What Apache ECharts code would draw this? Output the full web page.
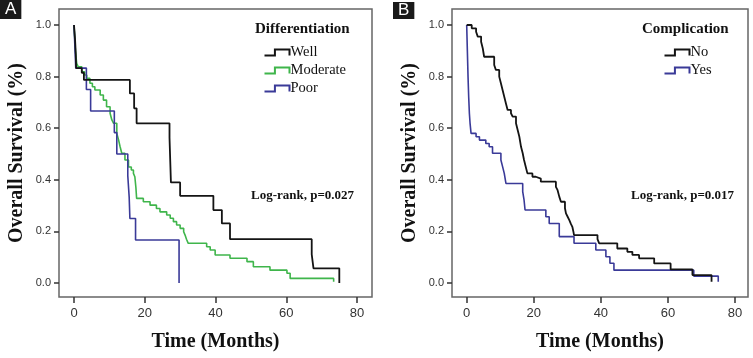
<!DOCTYPE html>
<html>
<head>
<meta charset="utf-8">
<script src="https://cdn.jsdelivr.net/npm/echarts@6/dist/echarts.min.js"></script>
<style>
html,body{margin:0;padding:0;background:#fff;}
#c{width:753px;height:358px;}
</style>
</head>
<body>
<div id="c"></div>
<script>
// ---- Data ----
var xTicks = [0, 20, 40, 60, 80];
var yTicks = [0, 0.2, 0.4, 0.6, 0.8, 1.0];

// Panel A: Differentiation
var wellT = [0, 0.3, 0.5, 0.6, 2.2, 2.8, 15.8, 17.0, 17.7, 27.0, 27.4, 30.0, 39.4, 41.8, 44.1, 67.2, 67.7, 75.0];
var wellS = [1.0, 0.944, 0.889, 0.833, 0.815, 0.787, 0.735, 0.677, 0.619, 0.563, 0.39, 0.338, 0.283, 0.231, 0.17, 0.111, 0.057, 0];

var modT = [0, 0.2, 0.4, 0.76, 1.2, 2.2, 3.0, 3.6, 4.5, 5.2, 5.9, 7.4, 8.3, 9.2, 10.2, 10.7, 11.2, 12.1, 12.6, 13.0, 13.5, 14.4, 15.4, 16.2, 16.8, 17.2, 17.5, 17.7, 19.6, 21.5, 23.3, 24.3, 26.2, 27.2, 28.1, 29.0, 30.0, 31.0, 31.4, 31.8, 32.3, 37.5, 38.5, 39.9, 44.1, 48.9, 50.7, 55.4, 60.2, 61.1, 73.4];
var modS = [1.0, 0.95, 0.9, 0.851, 0.838, 0.819, 0.806, 0.793, 0.774, 0.761, 0.748, 0.729, 0.709, 0.683, 0.658, 0.632, 0.619, 0.58, 0.555, 0.53, 0.503, 0.477, 0.45, 0.438, 0.425, 0.412, 0.37, 0.328, 0.315, 0.302, 0.289, 0.276, 0.264, 0.251, 0.238, 0.225, 0.212, 0.199, 0.186, 0.17, 0.154, 0.141, 0.128, 0.109, 0.096, 0.083, 0.063, 0.05, 0.038, 0.018, 0.005];

var poorT = [0, 0.5, 3.5, 4.7, 11.4, 12.1, 15.2, 15.6, 15.8, 17.4, 29.7];
var poorS = [1.0, 0.833, 0.75, 0.667, 0.583, 0.5, 0.417, 0.333, 0.25, 0.167, 0];

// Panel B: Complication
var noT = [0, 1.5, 2.8, 3.3, 4.3, 4.8, 5.2, 8.2, 8.7, 9.7, 10.2, 10.7, 11.2, 11.7, 12.2, 13.2, 13.7, 14.7, 15.2, 15.7, 16.2, 16.7, 17.1, 17.6, 18.1, 19.6, 20.6, 22.1, 26.6, 27.1, 27.6, 28.1, 29.3, 29.6, 30.1, 30.6, 31.0, 31.5, 31.8, 32.0, 39.0, 39.5, 44.9, 47.9, 49.4, 51.4, 55.9, 60.8, 67.3, 73.0];
var noS = [1.0, 0.987, 0.974, 0.955, 0.935, 0.909, 0.877, 0.845, 0.826, 0.8, 0.774, 0.748, 0.722, 0.696, 0.671, 0.658, 0.645, 0.619, 0.593, 0.567, 0.528, 0.503, 0.477, 0.451, 0.425, 0.412, 0.405, 0.393, 0.373, 0.36, 0.335, 0.315, 0.29, 0.27, 0.257, 0.244, 0.231, 0.218, 0.2, 0.186, 0.17, 0.154, 0.134, 0.121, 0.109, 0.096, 0.076, 0.053, 0.031, 0.005];

var yesT = [0, 0.2, 0.4, 0.6, 0.8, 1.0, 1.3, 2.8, 3.8, 5.7, 6.7, 7.7, 10.2, 10.7, 11.2, 11.7, 16.7, 17.1, 17.4, 23.6, 24.6, 27.6, 32.0, 38.5, 41.5, 42.7, 43.9, 67.7, 75.0];
var yesS = [1.0, 0.9, 0.8, 0.72, 0.658, 0.62, 0.58, 0.567, 0.554, 0.541, 0.528, 0.503, 0.477, 0.451, 0.425, 0.386, 0.354, 0.322, 0.283, 0.257, 0.231, 0.18, 0.154, 0.128, 0.102, 0.077, 0.05, 0.027, 0.005];

var seriesNamesA = ['Well', 'Moderate', 'Poor'];
var seriesNamesB = ['No', 'Yes'];
var legendTitleA = 'Differentiation';
var legendTitleB = 'Complication';
var logRankA = 'Log-rank, p=0.027';
var logRankB = 'Log-rank, p=0.017';
var xTitle = 'Time (Months)';
var yTitle = 'Overall Survival (%)';

// ---- Styling ----
var C_BLACK = '#141414', C_GREEN = '#3fb54b', C_BLUE = '#3a3a98';
var SERIF = '"Liberation Serif", "Times New Roman", serif';
var SANS = '"Liberation Sans", Arial, sans-serif';

function pairs(t, s) { return t.map(function (v, i) { return [v, s[i]]; }); }

function xAxis(grid, min, max) {
  return {
    type: 'value', gridIndex: grid, min: min, max: max, position: 'bottom',
    axisLine: { show: false, onZero: false },
    splitLine: { show: false },
    axisTick: { show: true, customValues: xTicks, length: 6, lineStyle: { color: '#333', width: 1.5 } },
    axisLabel: { show: true, customValues: xTicks, margin: 10, fontSize: 13, color: '#333', fontFamily: SANS },
    name: xTitle, nameLocation: 'middle', nameGap: 35,
    nameTextStyle: { fontFamily: SERIF, fontWeight: 'bold', fontSize: 20, color: '#111' }
  };
}
function yAxis(grid) {
  return {
    type: 'value', gridIndex: grid, min: -0.054, max: 1.062, position: 'left',
    axisLine: { show: false, onZero: false },
    splitLine: { show: false },
    axisTick: { show: true, customValues: yTicks, length: 5, lineStyle: { color: '#333', width: 1.5 } },
    axisLabel: { show: true, customValues: yTicks, margin: 8, fontSize: 11, color: '#333', fontFamily: SANS,
      formatter: function (v) { return v.toFixed(1); } },
    name: yTitle, nameLocation: 'middle', nameGap: 32,
    nameTextStyle: { fontFamily: SERIF, fontWeight: 'bold', fontSize: 20, color: '#111' }
  };
}
function km(name, t, s, color, xi, yi, w) {
  return {
    type: 'line', name: name, xAxisIndex: xi, yAxisIndex: yi, step: 'end',
    data: pairs(t, s), symbol: 'none', animation: false,
    lineStyle: { color: color, width: w }, itemStyle: { color: color }
  };
}
var ICON = 'path://M0,6 L10,6 L10,0 L24,0 L24,6';
function legItem(name, color) {
  return { name: name, icon: ICON, itemStyle: { color: 'none', borderColor: color, borderWidth: 2 } };
}

var chart = echarts.init(document.getElementById('c'), null, { renderer: 'canvas' });
chart.setOption({
  animation: false,
  backgroundColor: '#fff',
  grid: [
    { left: 59, top: 9, width: 313, height: 288, show: true, borderColor: '#666', borderWidth: 1.5, backgroundColor: 'transparent' },
    { left: 452, top: 9, width: 296, height: 288, show: true, borderColor: '#666', borderWidth: 1.5, backgroundColor: 'transparent' }
  ],
  xAxis: [xAxis(0, -4.24, 84.24), xAxis(1, -4.38, 83.87)],
  yAxis: [yAxis(0), yAxis(1)],
  title: [
    { text: 'A', left: 0, top: 0, padding: [1, 5, 1, 5], backgroundColor: '#1a1a1a',
      textStyle: { color: '#fff', fontSize: 17, fontWeight: 'normal', fontFamily: SANS } },
    { text: 'B', left: 393, top: 2, padding: [0, 5, 0, 5], backgroundColor: '#1a1a1a',
      textStyle: { color: '#fff', fontSize: 17, fontWeight: 'normal', fontFamily: SANS } },
    { text: legendTitleA, left: 255, top: 22, padding: 0,
      textStyle: { fontFamily: SERIF, fontWeight: 'bold', fontSize: 15, color: '#111' } },
    { text: legendTitleB, left: 642, top: 22, padding: 0,
      textStyle: { fontFamily: SERIF, fontWeight: 'bold', fontSize: 15, color: '#111' } },
    { text: logRankA, left: 251, top: 189, padding: 0,
      textStyle: { fontFamily: SERIF, fontWeight: 'bold', fontSize: 13, color: '#111' } },
    { text: logRankB, left: 631, top: 189, padding: 0,
      textStyle: { fontFamily: SERIF, fontWeight: 'bold', fontSize: 13, color: '#111' } }
  ],
  legend: [
    { orient: 'vertical', left: 262, top: 45, padding: 0, itemGap: 3, itemWidth: 25, itemHeight: 6,
      symbolKeepAspect: false, selectedMode: false,
      textStyle: { fontFamily: SERIF, fontSize: 14.5, color: '#111', padding: [0, 0, 0, -4] },
      data: [legItem(seriesNamesA[0], C_BLACK), legItem(seriesNamesA[1], C_GREEN), legItem(seriesNamesA[2], C_BLUE)] },
    { orient: 'vertical', left: 662, top: 45, padding: 0, itemGap: 3, itemWidth: 25, itemHeight: 6,
      symbolKeepAspect: false, selectedMode: false,
      textStyle: { fontFamily: SERIF, fontSize: 14.5, color: '#111', padding: [0, 0, 0, -4] },
      data: [legItem(seriesNamesB[0], C_BLACK), legItem(seriesNamesB[1], C_BLUE)] }
  ],
  series: [
    km(seriesNamesA[1], modT, modS, C_GREEN, 0, 0, 1.6),
    km(seriesNamesA[2], poorT, poorS, C_BLUE, 0, 0, 1.6),
    km(seriesNamesA[0], wellT, wellS, C_BLACK, 0, 0, 1.8),
    km(seriesNamesB[1], yesT, yesS, C_BLUE, 1, 1, 1.6),
    km(seriesNamesB[0], noT, noS, C_BLACK, 1, 1, 1.8)
  ]
});
</script>
</body>
</html>
